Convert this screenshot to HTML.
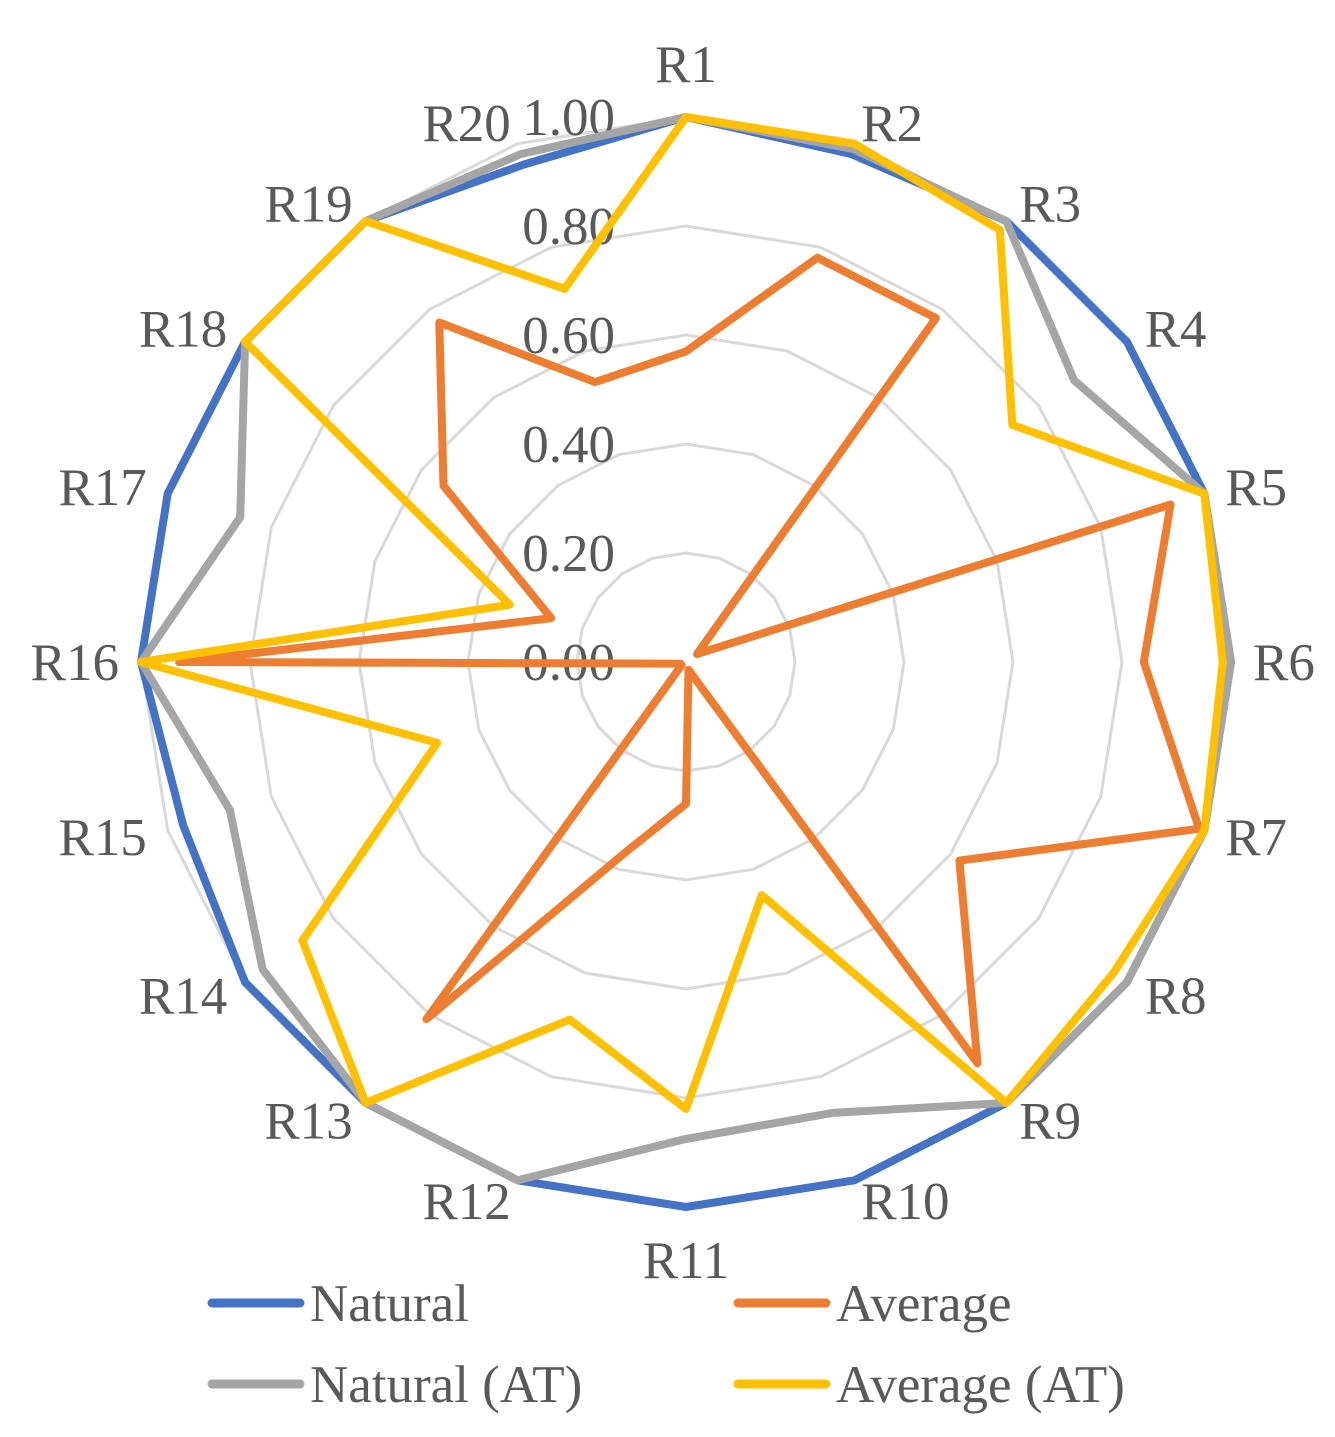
<!DOCTYPE html>
<html><head><meta charset="utf-8"><style>
html,body{margin:0;padding:0;background:#fff;}
svg{display:block;}
text{font-family:"Liberation Serif",serif;fill:#595959;font-size:53px;}
</style></head><body>
<svg id="chart" width="1335" height="1437" viewBox="0 0 1335 1437">
<g id="grid"></g>
<g id="ticks"></g>
<g id="cats"></g>
<g id="series"></g>
<g id="legend">
 <g><line x1="212" y1="1303" x2="300" y2="1303" stroke="#4472C4" stroke-width="9" stroke-linecap="round"/><text x="310" y="1321">Natural</text></g>
 <g><line x1="738" y1="1303" x2="826" y2="1303" stroke="#ED7D31" stroke-width="9" stroke-linecap="round"/><text x="836" y="1321">Average</text></g>
 <g><line x1="212" y1="1384" x2="300" y2="1384" stroke="#A5A5A5" stroke-width="9" stroke-linecap="round"/><text x="310" y="1402">Natural (AT)</text></g>
 <g><line x1="738" y1="1384" x2="826" y2="1384" stroke="#FFC000" stroke-width="9" stroke-linecap="round"/><text x="836" y="1402">Average (AT)</text></g>
</g>
</svg>
<script>
const categories = ["R1","R2","R3","R4","R5","R6","R7","R8","R9","R10","R11","R12","R13","R14","R15","R16","R17","R18","R19","R20"];
const tickValues = [0,0.2,0.4,0.6,0.8,1.0];
const tickLabels = ["0.00","0.20","0.40","0.60","0.80","1.00"];
const natural   = [1,0.98,1,1,1,1,1,1,1,1,1,1,1,1,0.97,1,1,1,1,0.96];
const average   = [0.57,0.78,0.78,0.025,0.935,0.84,0.99,0.62,0.91,0.015,0.26,0.37,0.81,0.01,0.01,0.93,0.26,0.55,0.77,0.54];
const naturalAT = [1,0.99,1,0.88,1,1,1,1,1,0.87,0.875,1,1,0.96,0.88,1,0.86,1,1,0.98];
const averageAT = [1,1,0.98,0.74,1,0.985,1,0.97,1,0.45,0.82,0.69,1,0.87,0.48,1,0.34,1,1,0.72];

const NS="http://www.w3.org/2000/svg";
const cx=686, cy=662, R=545;
function ang(i){return (i*360/categories.length-90)*Math.PI/180;}
function px(i,v){return cx+R*v*Math.cos(ang(i));}
function py(i,v){return cy+R*v*Math.sin(ang(i));}
function mk(tag,attrs,parent){const e=document.createElementNS(NS,tag);for(const k in attrs)e.setAttribute(k,attrs[k]);parent.appendChild(e);return e;}

const grid=document.getElementById('grid');
tickValues.forEach((t,k)=>{
  if(t===0)return;
  const pts=categories.map((c,i)=>px(i,t).toFixed(1)+','+py(i,t).toFixed(1)).join(' ');
  const p=mk('polygon',{points:pts,fill:'none',stroke:'#D9D9D9','stroke-width':3},grid);
  
  
});
const ticks=document.getElementById('ticks');
tickValues.forEach((t,k)=>{
  const e=mk('text',{x:615,y:(cy-R*t+18).toFixed(1),'text-anchor':'end'},ticks);
  e.textContent=tickLabels[k];
  
  
});
const cats=document.getElementById('cats');
categories.forEach((c,i)=>{
  const s=Math.cos(ang(i)), cs=Math.sin(ang(i));
  let anchor='middle', rr=598;
  if(s>0.1){anchor='start';rr=567;} else if(s<-0.1){anchor='end';rr=567;}
  const e=mk('text',{x:(cx+rr*s).toFixed(1),y:(cy+rr*cs+18).toFixed(1),'text-anchor':anchor},cats);
  e.textContent=c;
  
  
});
const series=document.getElementById('series');
[[natural,'#4472C4','natural'],[naturalAT,'#A5A5A5','natural-at'],[average,'#ED7D31','average'],[averageAT,'#FFC000','average-at']].forEach(([vals,col,nm])=>{
  const pts=vals.map((v,i)=>px(i,v).toFixed(1)+','+py(i,v).toFixed(1)).join(' ');
  const p=mk('polygon',{points:pts,fill:'none',stroke:col,'stroke-width':8,'stroke-linejoin':'round'},series);
  
  
});
</script>
</body></html>
